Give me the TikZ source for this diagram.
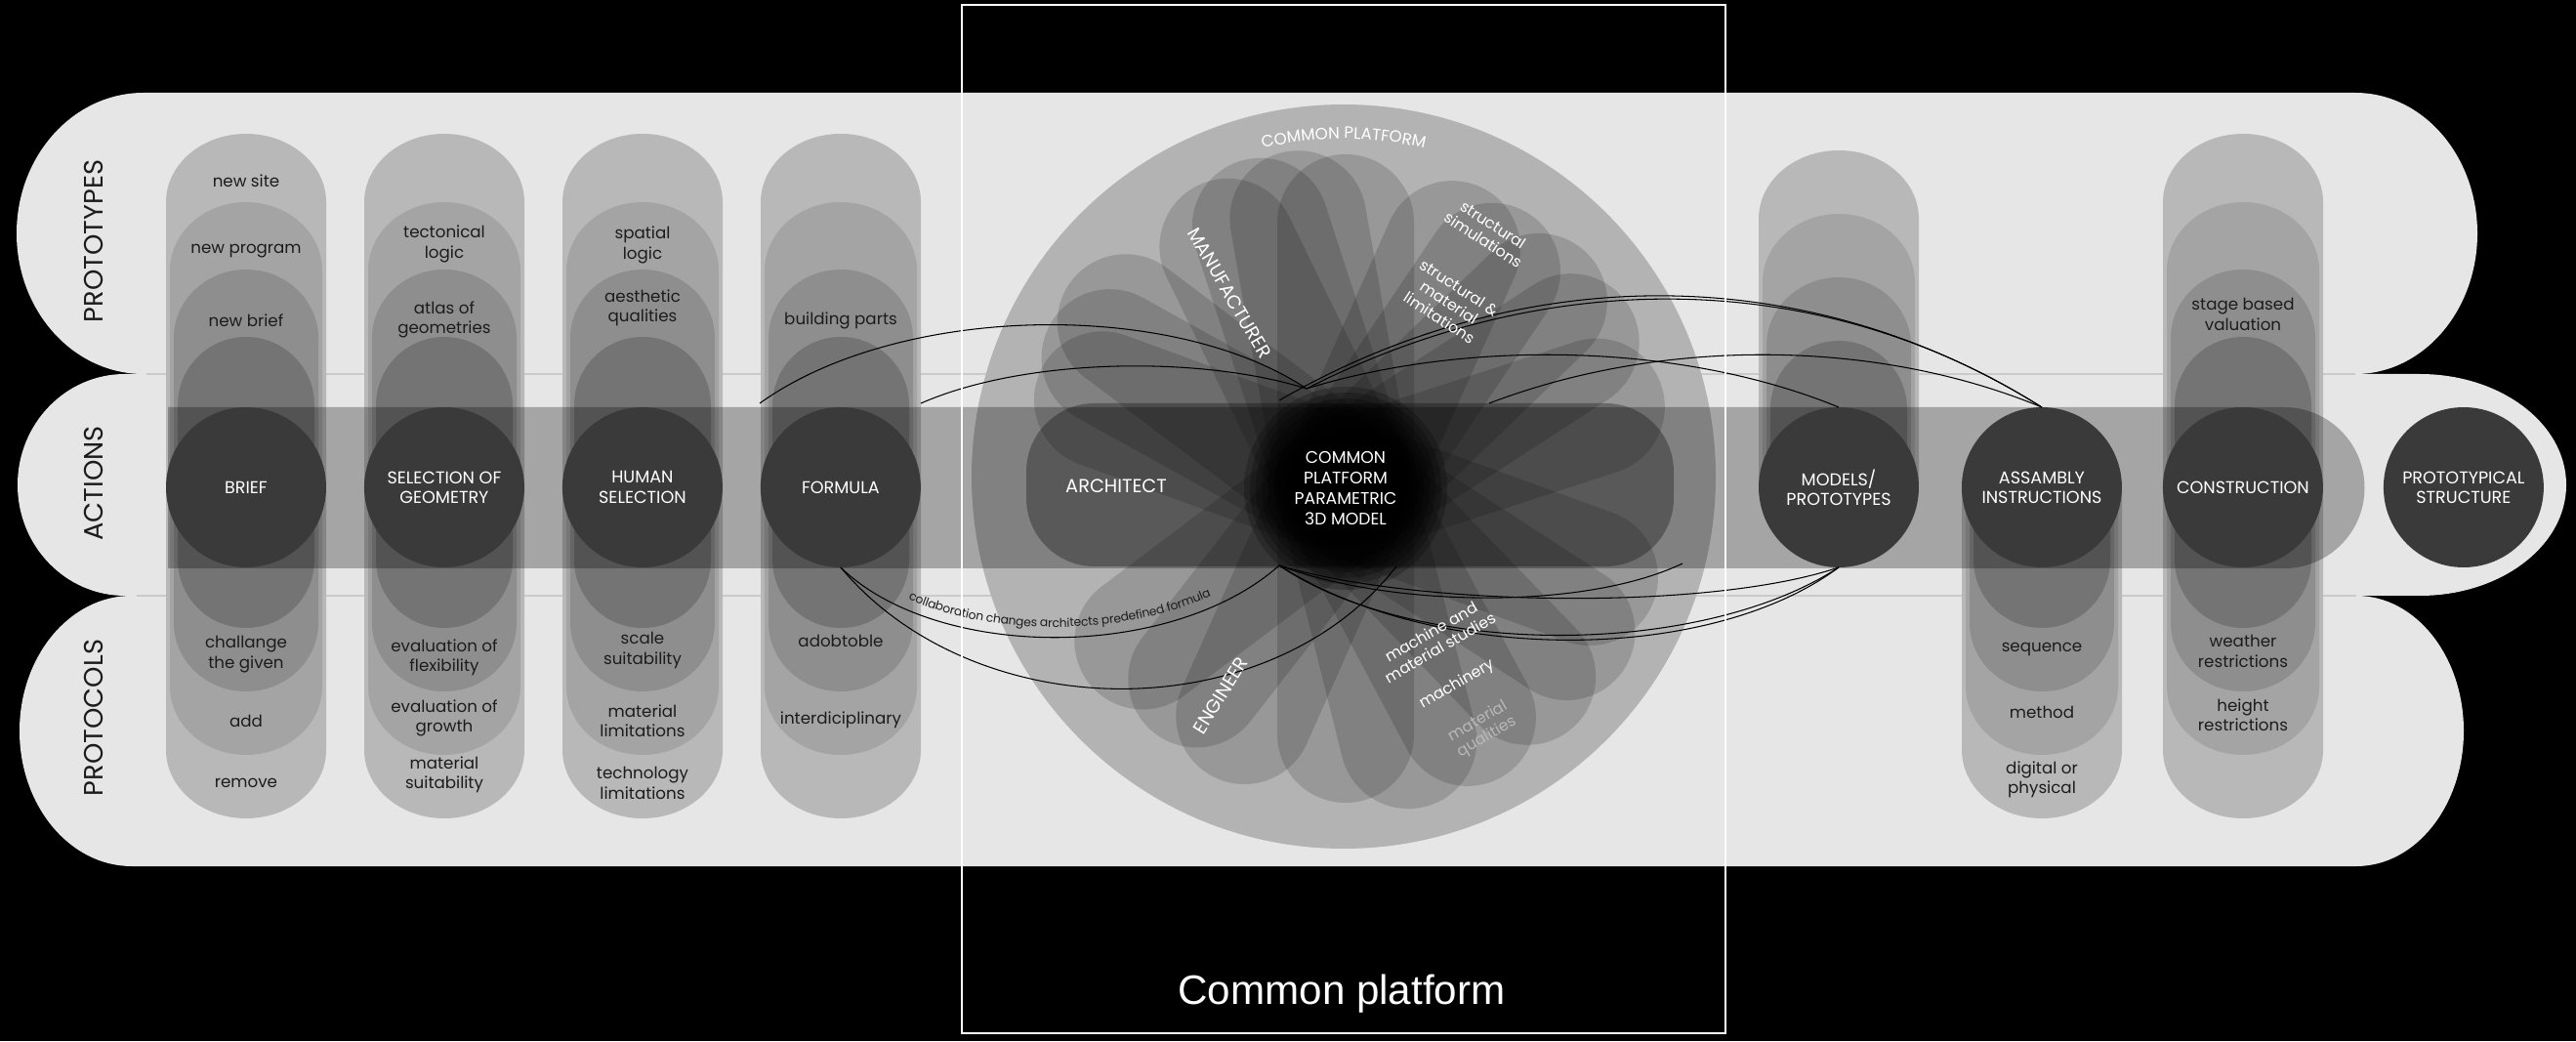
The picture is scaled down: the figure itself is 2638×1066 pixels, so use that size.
\documentclass[tikz,border=0pt]{standalone}
\usepackage{fontspec}
\setmainfont{Poppins}
\newfontfamily\capfont{Liberation Sans}
\usetikzlibrary{positioning, decorations.text}

\definecolor{bandc}{RGB}{230,230,230}
\definecolor{layA}{RGB}{184,184,184}
\definecolor{layB}{RGB}{164,164,164}
\definecolor{layC}{RGB}{142,142,142}
\definecolor{layD}{RGB}{116,116,116}
\definecolor{corec}{RGB}{58,58,58}
\definecolor{ringc}{RGB}{179,179,179}
\definecolor{inkc}{RGB}{28,28,28}

\begin{document}
\begin{tikzpicture}[
    x=0.02cm, y=0.02cm,
    row/.style={rotate=90, font=\fontsize{15.5}{18}\selectfont, text=inkc},
    lbl/.style={align=center, font=\fontsize{9.5}{11.5}\selectfont, text=inkc},
    core/.style={circle, fill=corec, minimum size=3.28cm, inner sep=0pt, outer sep=0pt, align=center, text=white, font=\fontsize{10}{11.5}\selectfont},
    hub/.style={circle, minimum size=2.96cm, inner sep=0pt, align=center, text=white, font=\fontsize{9.8}{12}\selectfont},
    pet/.style={align=center, text=white, font=\fontsize{9}{10.5}\selectfont},
    role/.style={text=white, font=\fontsize{11}{13}\selectfont},
    leaf/.style={fill=black, fill opacity=0.15, rounded corners=1.4cm},
    link/.style={draw=black, line width=0.6pt},
    sep/.style={draw=black, opacity=0.12, line width=1.5pt}
]
    \useasboundingbox (0,0) rectangle (2638,1066);
    \fill[black] (0,0) rectangle (2638,1066);

    % three bands
    \fill[bandc] (147,971) -- (2412,971) arc[start angle=90,end angle=-90,x radius=125,y radius=144] -- (147,683) arc[start angle=270,end angle=90,x radius=130,y radius=144] -- cycle;
    \fill[bandc] (128,683) -- (2478,683) arc[start angle=90,end angle=-90,x radius=150,y radius=113.5] -- (128,456) arc[start angle=270,end angle=90,x radius=110,y radius=113.5] -- cycle;
    \fill[bandc] (135,456) -- (2413,456) arc[start angle=90,end angle=-90,x radius=110,y radius=138.5] -- (135,179) arc[start angle=270,end angle=90,x radius=115,y radius=138.5] -- cycle;
    \draw[sep] (150,683) -- (2412,683);
    \draw[sep] (140,456) -- (2413,456);

    % nested columns
    \foreach \cx in {252,455,658,861,2297}
      \foreach \hw/\yt/\yb/\c in {82/929/228/layA,78/859/293/layB,74/790/358/layC,70/721/423/layD}
        \fill[\c] (\cx-\hw,\yt-70) arc[start angle=180,end angle=0,x radius=\hw,y radius=70] -- (\cx+\hw,\yb+70) arc[start angle=0,end angle=-180,x radius=\hw,y radius=70] -- cycle;
    \foreach \hw/\yt/\c in {82/912/layA,78/847/layB,74/782/layC,70/717/layD}
      \fill[\c] (1883-\hw,\yt-70) arc[start angle=180,end angle=0,x radius=\hw,y radius=70] -- (1883+\hw,570) arc[start angle=0,end angle=-180,x radius=\hw,y radius=70] -- cycle;
    \foreach \hw/\yb/\c in {82/228/layA,78/293/layB,74/358/layC,70/423/layD}
      \fill[\c] (2091-\hw,560) arc[start angle=180,end angle=0,x radius=\hw,y radius=70] -- (2091+\hw,\yb+70) arc[start angle=0,end angle=-180,x radius=\hw,y radius=70] -- cycle;

    % common platform disc and petals
    \fill[ringc] (1376,578) circle[radius=381];
    \begin{scope}[shift={(1378,566)}]
      \foreach \a/\r in {116/345,108/352,100/350,90/342,66/338,56/338,44/345,33/345,18/340,-20/336,-33/340,-46/338,-62/336,-76/336,-90/322,-114/325,-128/318,-143/330,151/346,143/352,160/335}
        \fill[leaf, rotate=\a] (-50,-70) rectangle (\r,70);
    \end{scope}
    \fill[black, fill opacity=0.3, rounded corners=1.4cm] (1051,486) rectangle (1714,653);
    \path[decorate, decoration={text along path, text align=center, text color=white, text={|\fontsize{9.5}{11}\selectfont|COMMON PLATFORM}}] (1376,578) ++(110:346) arc[start angle=110,end angle=70,radius=346];

    % actions bar
    \fill[black, fill opacity=0.28] (172,649) -- (2339,649) arc[start angle=90,end angle=-90,radius=82.5] -- (172,484) -- cycle;

    % actions
    \node[core] (brief) at (252,567) {BRIEF};
    \node[core, right=0.78cm of brief] (geometry) {SELECTION OF\\GEOMETRY};
    \node[core, right=0.78cm of geometry] (human) {HUMAN\\SELECTION};
    \node[core, right=0.78cm of human] (formula) {FORMULA};
    \node[core] (models) at (1883,567) {MODELS/\\PROTOTYPES};
    \node[core, right=0.88cm of models] (assembly) {ASSAMBLY\\INSTRUCTIONS};
    \node[core, right=0.84cm of assembly] (construction) {CONSTRUCTION};
    \node[core, right=1.24cm of construction] (prototypical) {PROTOTYPICAL\\STRUCTURE};

    % soft black centre
    \foreach \r in {104,98,92,86,80,74}
      \fill[black, fill opacity=0.22] (1378,566) circle[radius=\r];
    \node[hub] (cp) at (1378,566) {COMMON\\PLATFORM\\PARAMETRIC\\3D MODEL};

    % links
    \coordinate (fl) at (778,653);
    \coordinate (fr) at (943,653);
    \coordinate (cpn) at (1338,668);
    \coordinate (cpn2) at (1310,656);
    \coordinate (cpe) at (1525,653);
    \coordinate (cps) at (1310,487);
    \coordinate (cps2) at (1430,486);
    \coordinate (arce) at (1723,489);
    \draw[link] (fl) .. controls (920,755) and (1200,760) .. (cpn);
    \draw[link] (fr) .. controls (1050,700) and (1230,702) .. (cpn);
    \draw[link] (cpn2) .. controls (1560,800) and (1850,800) .. (assembly.north);
    \draw[link] (cpn) .. controls (1580,792) and (1860,795) .. (assembly.north);
    \draw[link] (cpn) .. controls (1500,718) and (1720,716) .. (models.north);
    \draw[link] (cpe) .. controls (1700,720) and (1920,720) .. (assembly.north);
    \draw[link, postaction={decorate, decoration={text along path, raise=6pt, text align=center, text color=inkc, text={|\fontsize{7}{8}\selectfont|collaboration changes architects predefined formula}}}] (formula.south) .. controls (960,389) and (1200,389) .. (cps);
    \draw[link] (formula.south) .. controls (1000,319) and (1300,319) .. (cps2);
    \draw[link] (cps) .. controls (1450,392) and (1740,392) .. (models.south);
    \draw[link] (cps) .. controls (1470,385) and (1750,386) .. (models.south);
    \draw[link] (cps) .. controls (1450,445) and (1750,440) .. (models.south);
    \draw[link] (arce) .. controls (1620,440) and (1420,445) .. (cps);

    % petal texts
    \node[role] (architect) at (1143,568) {ARCHITECT};
    \node[role, rotate=-60] (manu) at (1259,766) {MANUFACTURER};
    \node[role, rotate=58] (engineer) at (1250,354) {ENGINEER};
    \node[pet, rotate=-33] (sims) at (1524,828) {structural\\simulations};
    \node[pet, rotate=-33] (limits) at (1484,756) {structural \&\\material\\limitations};
    \node[pet, rotate=30] (studies) at (1470,411) {machine and\\material studies};
    \node[pet, rotate=30] (machinery) at (1492,365) {machinery};
    \node[pet, rotate=30, text=white!72!black] (qualities) at (1518,319) {material\\qualities};

    % rows
    \node[row] (rproto) at (96,819) {PROTOTYPES};
    \node[row] (ractions) at (96,571) {ACTIONS};
    \node[row] (rprotocols) at (96,331) {PROTOCOLS};

    % column texts
    \node[lbl] (b1) at (252,881) {new site};
    \node[lbl] (b2) at (252,809) {new program};
    \node[lbl] (b3) at (252,738) {new brief};
    \node[lbl] (b4) at (252,396) {challange\\the given};
    \node[lbl] (b5) at (252,328) {add};
    \node[lbl] (b6) at (252,264) {remove};
    \node[lbl] (g1) at (455,816) {tectonical\\logic};
    \node[lbl] (g2) at (455,739) {atlas of\\geometries};
    \node[lbl] (g3) at (455,393) {evaluation of\\flexibility};
    \node[lbl] (g4) at (455,331) {evaluation of\\growth};
    \node[lbl] (g5) at (455,273) {material\\suitability};
    \node[lbl] (h1) at (658,815) {spatial\\logic};
    \node[lbl] (h2) at (658,751) {aesthetic\\qualities};
    \node[lbl] (h3) at (658,400) {scale\\suitability};
    \node[lbl] (h4) at (658,328) {material\\limitations};
    \node[lbl] (h5) at (658,264) {technology\\limitations};
    \node[lbl] (f1) at (861,738) {building parts};
    \node[lbl] (f2) at (861,410) {adobtoble};
    \node[lbl] (f3) at (861,329) {interdiciplinary};
    \node[lbl] (a1) at (2091,401) {sequence};
    \node[lbl] (a2) at (2091,337) {method};
    \node[lbl] (a3) at (2091,268) {digital or\\physical};
    \node[lbl] (c1) at (2297,744) {stage based\\valuation};
    \node[lbl] (c2) at (2297,399) {weather\\restrictions};
    \node[lbl] (c3) at (2297,334) {height\\restrictions};

    % frame
    \draw[white, line width=1.2pt] (985,8) rectangle (1767,1061);
    \node[text=white, font={\capfont\fontsize{24}{27}\selectfont}] (cptitle) at (1374,48) {Common platform};
\end{tikzpicture}
\end{document}
